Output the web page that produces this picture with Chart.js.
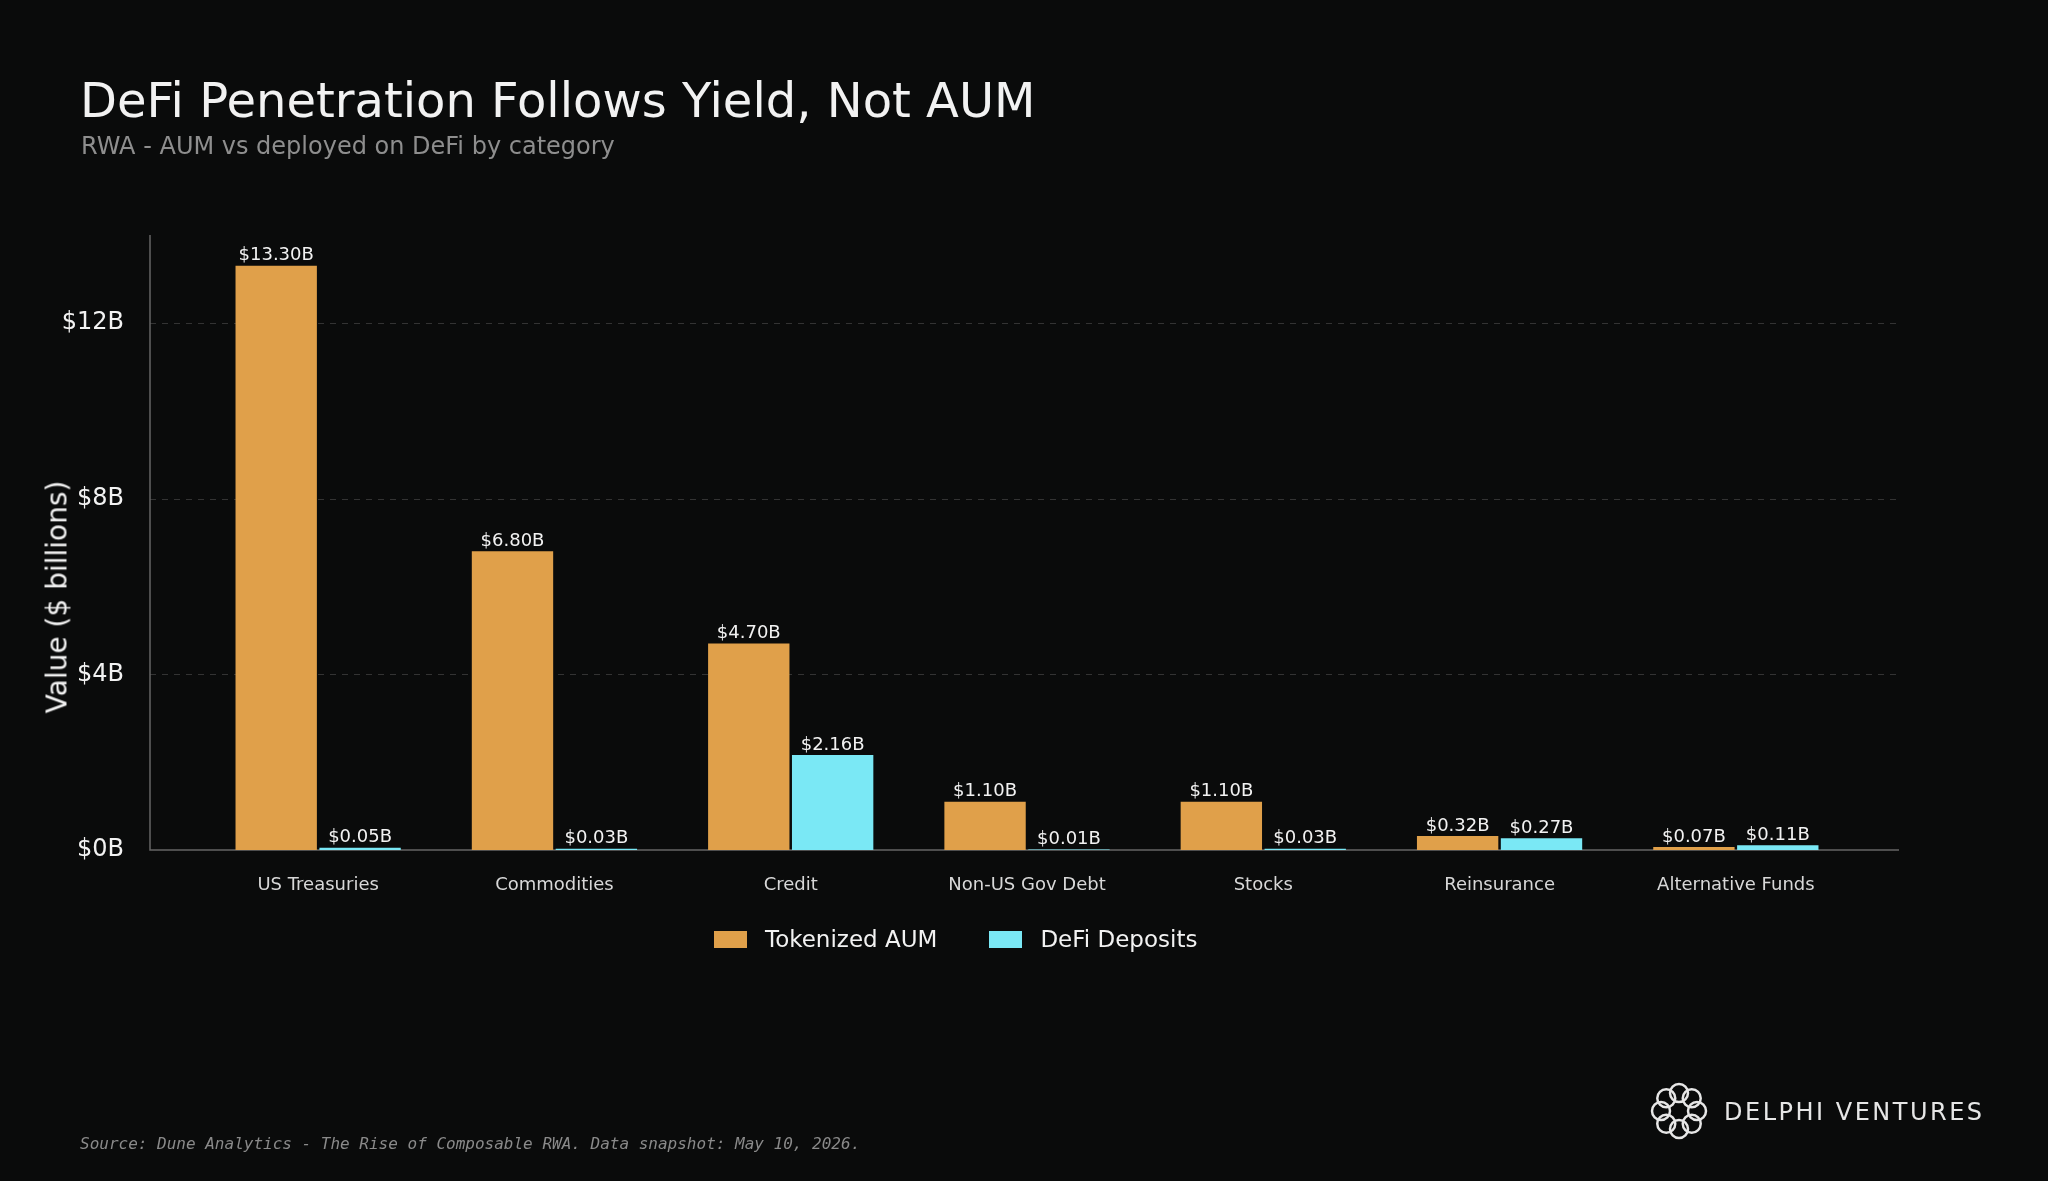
<!DOCTYPE html>
<html><head><meta charset="utf-8">
<script src="https://cdn.jsdelivr.net/npm/chart.js@4"></script>
<style>
html,body{margin:0;padding:0;background:#0a0b0b;width:2048px;height:1181px;overflow:hidden;font-family:"DejaVu Sans",sans-serif}
#wrap{position:relative;width:2048px;height:1181px}
canvas{position:absolute;left:0;top:0}
.t{position:absolute;white-space:nowrap}
</style></head><body>
<div id="wrap">
<canvas id="c" width="2048" height="1181"></canvas>
<div class="t" style="left:80px;top:72px;font-size:48px;color:#f2f2f2">DeFi Penetration Follows Yield, Not AUM</div>
<div class="t" style="left:81px;top:132px;font-size:24px;color:#8e8e8e">RWA - AUM vs deployed on DeFi by category</div>
<div class="t" style="left:57px;top:597px;font-size:28px;color:#f2f2f2;transform:translate(-50%,-50%) rotate(-90deg)">Value ($ billions)</div>
<div class="t" style="left:714px;top:926px;font-size:23px;color:#f2f2f2;display:flex;align-items:center">
 <span style="display:inline-block;width:33px;height:17px;background:#e0a04a;margin-right:18px"></span>Tokenized AUM
 <span style="display:inline-block;width:33px;height:17px;background:#7ae8f5;margin:0 18px 0 52px"></span>DeFi Deposits
</div>
<div class="t" style="left:80px;top:1134px;font-size:16px;color:#8a8a8a;font-family:'DejaVu Sans Mono',monospace;font-style:italic">Source: Dune Analytics - The Rise of Composable RWA. Data snapshot: May 10, 2026.</div>
<canvas id="logo" width="90" height="70" style="left:1634px;top:1076px"></canvas>
<div class="t" style="left:1724px;top:1098px;font-size:24px;color:#e6e6e6;letter-spacing:2.5px">DELPHI VENTURES</div>
</div>
<script>
var categories = ['US Treasuries','Commodities','Credit','Non-US Gov Debt','Stocks','Reinsurance','Alternative Funds'];
var aumValues = [13.30, 6.80, 4.70, 1.10, 1.10, 0.32, 0.07];
var defiValues = [0.05, 0.03, 2.16, 0.01, 0.03, 0.27, 0.11];
var yTicks = [0, 4, 8, 12];

var AXIS_LEFT = 150, AXIS_RIGHT = 1899;

var decor = {
  id: 'decor',
  beforeDatasetsDraw: function(chart) {
    var c = chart.ctx, y = chart.scales.y;
    c.save();
    c.strokeStyle = '#333';
    c.lineWidth = 1;
    c.setLineDash([6, 6]);
    yTicks.forEach(function(v) {
      if (v === 0) return;
      var p = Math.round(y.getPixelForValue(v)) + 0.5;
      c.beginPath(); c.moveTo(AXIS_LEFT, p); c.lineTo(AXIS_RIGHT, p); c.stroke();
    });
    c.setLineDash([]);
    c.strokeStyle = '#666';
    c.lineWidth = 1.5;
    c.beginPath(); c.moveTo(AXIS_LEFT, chart.chartArea.top); c.lineTo(AXIS_LEFT, y.getPixelForValue(0)); c.lineTo(AXIS_RIGHT, y.getPixelForValue(0)); c.stroke();
    c.restore();
  },
  afterDatasetsDraw: function(chart) {
    var c = chart.ctx;
    c.save();
    c.font = '18px "DejaVu Sans"';
    c.fillStyle = '#f2f2f2';
    c.textAlign = 'center';
    c.textBaseline = 'bottom';
    chart.data.datasets.forEach(function(ds, i) {
      chart.getDatasetMeta(i).data.forEach(function(bar, j) {
        c.fillText('$' + ds.data[j].toFixed(2) + 'B', bar.x, bar.y - 1);
      });
    });
    c.restore();
  }
};

new Chart(document.getElementById('c'), {
  type: 'bar',
  data: {
    labels: categories,
    datasets: [
      {label: 'Tokenized AUM', data: aumValues, backgroundColor: '#e0a04a', categoryPercentage: 0.71, barPercentage: 0.97},
      {label: 'DeFi Deposits', data: defiValues, backgroundColor: '#7ae8f5', categoryPercentage: 0.71, barPercentage: 0.97}
    ]
  },
  options: {
    responsive: false,
    animation: false,
    layout: {padding: {left: 0, right: 194, top: 235, bottom: 0}},
    plugins: {legend: {display: false}, tooltip: {enabled: false}},
    scales: {
      x: {
        grid: {display: false, drawTicks: false}, border: {display: false},
        ticks: {color: '#d8d8d8', font: {family: 'DejaVu Sans', size: 18}, padding: 25, maxRotation: 0},
        afterFit: function(s) { s.height = 331; }
      },
      y: {
        min: 0, max: 14,
        grid: {display: false, drawTicks: false}, border: {display: false},
        ticks: {stepSize: 4, color: '#f2f2f2', font: {family: 'DejaVu Sans', size: 24}, padding: 76,
          callback: function(v) { return yTicks.indexOf(v) >= 0 ? '$' + v + 'B' : null; }},
        afterFit: function(s) { s.width = 200; }
      }
    }
  },
  plugins: [decor]
});

// logo ornament
(function() {
  var c = document.getElementById('logo').getContext('2d');
  c.strokeStyle = '#e6e6e6'; c.lineWidth = 2.5;
  for (var i = 0; i < 8; i++) {
    var a = i * Math.PI / 4;
    c.beginPath();
    c.arc(45 + 18 * Math.cos(a), 35 + 18 * Math.sin(a), 9, 0, Math.PI * 2);
    c.stroke();
  }
})();
</script>
</body></html>
